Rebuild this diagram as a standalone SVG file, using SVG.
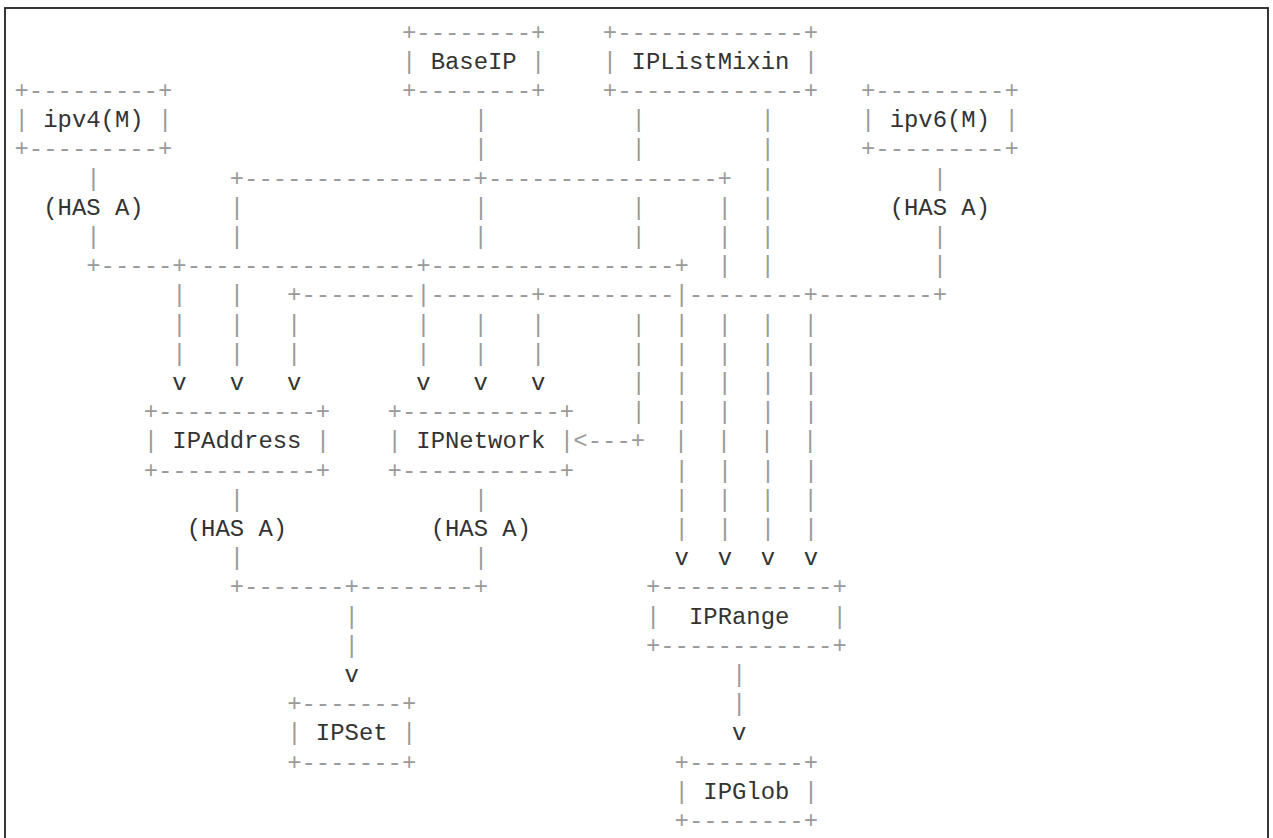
<svg xmlns="http://www.w3.org/2000/svg" width="1273" height="838" viewBox="0 0 1273 838">
<style>
text{font-family:"Liberation Mono","DejaVu Sans Mono",monospace;font-size:23.92px;white-space:pre}
.ln{fill:#9a9a9a}
.tx{fill:#333333}
</style>
<rect x="5" y="8" width="1263" height="850" fill="#ffffff" stroke="#222222" stroke-width="1.8"/>
<g id="connectors">
<text class="ln" x="473.7" y="127.1" xml:space="preserve">|          |        |</text>
<text class="ln" x="473.7" y="156.3" xml:space="preserve">|          |        |</text>
<text class="ln" x="86.25" y="185.5" xml:space="preserve">|         +----------------+----------------+  |           |</text>
<text class="ln" x="229.75" y="214.7" xml:space="preserve">|                |          |     |  |</text>
<text class="ln" x="86.25" y="243.9" xml:space="preserve">|         |                |          |     |  |           |</text>
<text class="ln" x="86.25" y="273.1" xml:space="preserve">+-----+----------------+-----------------+  |  |           |</text>
<text class="ln" x="172.35" y="302.3" xml:space="preserve">|   |   +--------|-------+---------|--------+--------+</text>
<text class="ln" x="172.35" y="331.5" xml:space="preserve">|   |   |        |   |   |      |  |  |  |  |</text>
<text class="ln" x="172.35" y="360.7" xml:space="preserve">|   |   |        |   |   |      |  |  |  |  |</text>
<text class="tx" x="172.35" y="389.9" xml:space="preserve">v   v   v        v   v   v</text>
<text class="ln" x="631.55" y="389.9" xml:space="preserve">|  |  |  |  |</text>
<text class="ln" x="631.55" y="419.1" xml:space="preserve">|  |  |  |  |</text>
<text class="ln" x="573.35" y="448.3" xml:space="preserve">&lt;---+  |  |  |  |</text>
<text class="ln" x="674.6" y="477.5" xml:space="preserve">|  |  |  |</text>
<text class="ln" x="229.75" y="506.7" xml:space="preserve">|                |             |  |  |  |</text>
<text class="ln" x="674.6" y="535.9" xml:space="preserve">|  |  |  |</text>
<text class="ln" x="229.75" y="565.1" xml:space="preserve">|                |</text>
<text class="tx" x="674.6" y="565.1" xml:space="preserve">v  v  v  v</text>
<text class="ln" x="229.75" y="594.3" xml:space="preserve">+-------+--------+</text>
<text class="ln" x="344.55" y="623.5">|</text>
<text class="ln" x="344.55" y="652.7">|</text>
<text class="tx" x="344.55" y="681.9">v</text>
<text class="ln" x="732" y="681.9">|</text>
<text class="ln" x="732" y="711.1">|</text>
<text class="tx" x="732" y="740.3">v</text>
<text class="tx" x="43.2" y="214.7">(HAS A)</text>
<text class="tx" x="889.65" y="214.7">(HAS A)</text>
<text class="tx" x="186.7" y="535.9">(HAS A)</text>
<text class="tx" x="430.65" y="535.9">(HAS A)</text>
</g>
<g id="BaseIP">
<text class="ln" x="401.95" y="39.5">+--------+</text>
<text class="tx" x="401.95" y="68.7" xml:space="preserve"><tspan class="ln">|</tspan> BaseIP <tspan class="ln">|</tspan></text>
<text class="ln" x="401.95" y="97.9">+--------+</text>
</g>
<g id="IPListMixin">
<text class="ln" x="602.85" y="39.5">+-------------+</text>
<text class="tx" x="602.85" y="68.7" xml:space="preserve"><tspan class="ln">|</tspan> IPListMixin <tspan class="ln">|</tspan></text>
<text class="ln" x="602.85" y="97.9">+-------------+</text>
</g>
<g id="ipv4">
<text class="ln" x="14.5" y="97.9">+---------+</text>
<text class="tx" x="14.5" y="127.1" xml:space="preserve"><tspan class="ln">|</tspan> ipv4(M) <tspan class="ln">|</tspan></text>
<text class="ln" x="14.5" y="156.3">+---------+</text>
</g>
<g id="ipv6">
<text class="ln" x="860.95" y="97.9">+---------+</text>
<text class="tx" x="860.95" y="127.1" xml:space="preserve"><tspan class="ln">|</tspan> ipv6(M) <tspan class="ln">|</tspan></text>
<text class="ln" x="860.95" y="156.3">+---------+</text>
</g>
<g id="IPAddress">
<text class="ln" x="143.65" y="419.1">+-----------+</text>
<text class="tx" x="143.65" y="448.3" xml:space="preserve"><tspan class="ln">|</tspan> IPAddress <tspan class="ln">|</tspan></text>
<text class="ln" x="143.65" y="477.5">+-----------+</text>
</g>
<g id="IPNetwork">
<text class="ln" x="387.6" y="419.1">+-----------+</text>
<text class="tx" x="387.6" y="448.3" xml:space="preserve"><tspan class="ln">|</tspan> IPNetwork <tspan class="ln">|</tspan></text>
<text class="ln" x="387.6" y="477.5">+-----------+</text>
</g>
<g id="IPRange">
<text class="ln" x="645.9" y="594.3">+------------+</text>
<text class="tx" x="645.9" y="623.5" xml:space="preserve"><tspan class="ln">|</tspan>  IPRange   <tspan class="ln">|</tspan></text>
<text class="ln" x="645.9" y="652.7">+------------+</text>
</g>
<g id="IPSet">
<text class="ln" x="287.15" y="711.1">+-------+</text>
<text class="tx" x="287.15" y="740.3" xml:space="preserve"><tspan class="ln">|</tspan> IPSet <tspan class="ln">|</tspan></text>
<text class="ln" x="287.15" y="769.5">+-------+</text>
</g>
<g id="IPGlob">
<text class="ln" x="674.6" y="769.5">+--------+</text>
<text class="tx" x="674.6" y="798.7" xml:space="preserve"><tspan class="ln">|</tspan> IPGlob <tspan class="ln">|</tspan></text>
<text class="ln" x="674.6" y="827.9">+--------+</text>
</g>
</svg>
